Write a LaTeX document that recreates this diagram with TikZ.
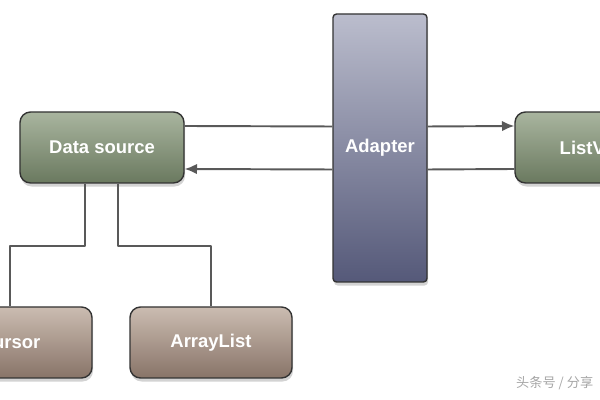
\documentclass[tikz,border=0pt]{standalone}
\usepackage{fontspec}
\setmainfont{Liberation Sans}
\newfontfamily\cjk{Noto Sans CJK SC}
\usetikzlibrary{arrows.meta,shadows}

\definecolor{srctop}{HTML}{A9B59F}
\definecolor{srcbot}{HTML}{6A795F}
\definecolor{adtop}{HTML}{BBBDCD}
\definecolor{adbot}{HTML}{555979}
\definecolor{coltop}{HTML}{CBBCB1}
\definecolor{colbot}{HTML}{887468}

\begin{document}
\begin{tikzpicture}[line join=round, >={Latex[length=7pt,width=6pt]},
	box/.style={draw=black!80, line width=0.8pt, rounded corners=6pt,
		minimum width=3.28cm, minimum height=1.42cm, text=white,
		font=\fontsize{10.5}{12}\selectfont\bfseries,
		drop shadow={shadow xshift=0.6pt, shadow yshift=-2pt, opacity=0.35}},
	greenbox/.style={box, top color=srctop, bottom color=srcbot},
	brownbox/.style={box, top color=coltop, bottom color=colbot},
	wire/.style={draw=black!65, line width=1.1pt}]
	\useasboundingbox (0,0) rectangle (12,8);
	\clip (0,0) rectangle (12,8);
	\def\gap{4.3mm} % nửa khoảng cách hai mũi tên
	
	\node[greenbox] (ds) at (2.04,5.05) {Data source};
	\node[box, rounded corners=2pt, minimum width=1.88cm, minimum height=5.36cm,
		top color=adtop, bottom color=adbot] (ad) at (7.6,5.04) {Adapter};
	\node[greenbox] (lv) at (11.94,5.05) {ListView};
	\node[brownbox] (cur) at (0.2,1.15) {Cursor};
	\node[brownbox, minimum width=3.24cm] (al) at (4.22,1.15) {ArrayList};
	
	% ds -> lv, lv -> ds
	\draw[wire] ([yshift=\gap]ds.east) -- ([yshift=\gap]ad.west);
	\draw[wire,->] ([yshift=\gap]ad.east) -- ([yshift=\gap]lv.west);
	\draw[wire] ([yshift=-\gap]lv.west) -- ([yshift=-\gap]ad.east);
	\draw[wire,->] ([yshift=-\gap]ad.west) -- ([yshift=-\gap]ds.east);
	
	\draw[wire] ([xshift=-3.4mm]ds.south) -- ++(0,-1.24) -| (cur.north);
	\draw[wire] ([xshift=3.2mm]ds.south) -- ++(0,-1.24) -| (al.north);
	
	\node[anchor=west, text=black!35, font=\cjk\fontsize{7.5}{9}\selectfont] (wm) at (10.2,0.34) {头条号 / 分享};
\end{tikzpicture}
\end{document}
